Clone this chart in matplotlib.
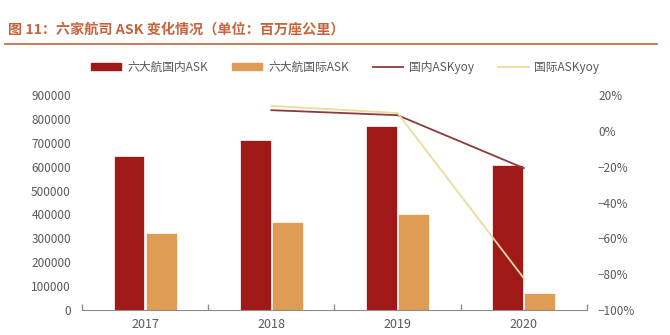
import matplotlib
matplotlib.use("Agg")
import matplotlib.pyplot as plt
from matplotlib.lines import Line2D
import numpy as np

plt.rcParams['font.family'] = ['Noto Sans CJK SC', 'DejaVu Sans']

years = ['2017', '2018', '2019', '2020']
dom_ask = [644000, 714000, 770000, 606000]
intl_ask = [324000, 367000, 402000, 71000]
yoy_years = ['2018', '2019', '2020']
dom_yoy = [11.6, 8.8, -20.8]
intl_yoy = [14.0, 10.0, -82.3]

c_dom = '#A11818'
c_intl = '#DE9C55'
c_dom_line = '#8E3A3C'
c_intl_line = '#EBDB9C'
c_title = '#C8643C'
c_tick = '#595959'

fig = plt.figure(figsize=(6.7, 3.35), dpi=100)
ax = fig.add_axes([0.1224, 0.075, 0.7536, 0.641])
ax2 = ax.twinx()

x = np.arange(len(years))
w = 0.245
ax.bar(x - w / 2 - 0.005, dom_ask, width=w, color=c_dom, edgecolor='white', linewidth=0.5, label='六大航国内ASK')
ax.bar(x + w / 2 + 0.005, intl_ask, width=w, color=c_intl, edgecolor='white', linewidth=0.5, label='六大航国际ASK')
ax.set_xlim(-0.5, len(years) - 0.5)
ax.set_ylim(0, 900000)
ax.set_yticks(np.arange(0, 900001, 100000))
ax.set_yticklabels([f'{v}' for v in range(0, 900001, 100000)])

xi = [years.index(y) for y in yoy_years]
ax2.plot(xi, dom_yoy, color=c_dom_line, linewidth=1.3)
ax2.plot(xi, intl_yoy, color=c_intl_line, linewidth=1.3)
ax2.set_ylim(-100, 20)
ax2.set_yticks(np.arange(-100, 21, 20))
ax2.set_yticklabels([f'{v}%'.replace('-', '−') for v in range(-100, 21, 20)])

for a in (ax, ax2):
    for s in ('top', 'left', 'right'):
        a.spines[s].set_visible(False)
    a.spines['bottom'].set_color('#8C8C8C')
    a.tick_params(axis='y', length=0, labelsize=8.5, labelcolor=c_tick, pad=8)
ax2.spines['bottom'].set_visible(False)
ax.set_xticks(x)
ax.set_xticklabels(years)
ax.tick_params(axis='x', length=0, labelsize=9, labelcolor=c_tick, pad=6)
ax.set_xticks(np.arange(-0.5, len(years), 1), minor=True)
ax.tick_params(axis='x', which='minor', length=4, direction='in', color='#8C8C8C', width=1)

fig.text(0.012, 1 - 30 / 335, '图 11：六家航司 ASK 变化情况（单位：百万座公里）', color=c_title,
         fontsize=10.2, fontweight='bold', va='center', ha='left')
fig.add_artist(Line2D([0.008, 0.98], [1 - 44 / 335, 1 - 44 / 335], color=c_title, linewidth=1.2))

handles = [
    plt.Rectangle((0, 0), 1, 1, color=c_dom),
    plt.Rectangle((0, 0), 1, 1, color=c_intl),
    Line2D([0], [0], color=c_dom_line, linewidth=1.3),
    Line2D([0], [0], color=c_intl_line, linewidth=1.3),
]
labels = ['六大航国内ASK', '六大航国际ASK', '国内ASKyoy', '国际ASKyoy']
leg = fig.legend(handles, labels, loc='center', bbox_to_anchor=(0.515, 1 - 67 / 335), ncol=4,
                 frameon=False, fontsize=8.5, handlelength=2.6, handleheight=0.6, columnspacing=2.0,
                 handletextpad=0.5)
for t in leg.get_texts():
    t.set_color(c_tick)

fig.savefig('out.png', dpi=100)
